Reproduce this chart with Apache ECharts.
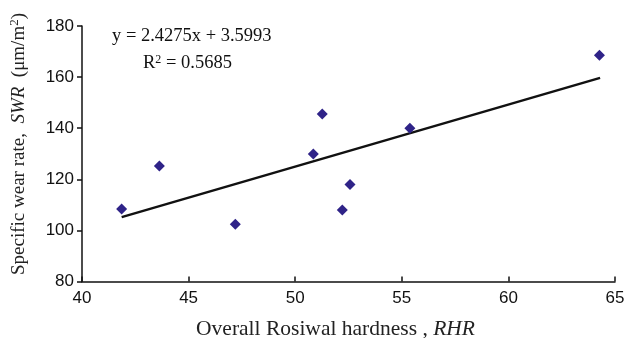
<!DOCTYPE html>
<html>
<head>
<meta charset="utf-8">
<script src="https://cdn.jsdelivr.net/npm/echarts@6/dist/echarts.min.js"></script>
<style>
  html, body { margin: 0; padding: 0; background: #fff; }
  #chart { width: 629px; height: 338px; }
</style>
</head>
<body>
<div id="chart"></div>
<script>
// overall Rosiwal hardness (RHR) vs specific wear rate (SWR)
const rhr = [41.86, 43.63, 47.19, 50.85, 51.27, 52.21, 52.57, 55.38, 64.27];
const swr = [108.4, 125.2, 102.4, 129.9, 145.6, 108.0, 118.0, 140.0, 168.6];
// linear trend endpoints (y = 2.4275x + 3.5993)
const trendX = [41.86, 64.3];
const trendY = [105.2, 159.7];
const equationText = "y = 2.4275x + 3.5993";
const r2Text = "R{sup|2} = 0.5685";

const serif = "Liberation Serif, Times New Roman, serif";
const sans = "Liberation Sans, Arial, sans-serif";

const chart = echarts.init(document.getElementById("chart"));

const option = {
  animation: false,
  grid: { left: 82, right: 14, top: 26, bottom: 56.5, outerBoundsMode: "none" },
  xAxis: {
    type: "value",
    min: 40,
    max: 65,
    interval: 5,
    name: "Overall Rosiwal hardness , {i|RHR}",
    nameLocation: "middle",
    nameGap: 37,
    nameTextStyle: {
      color: "#222",
      fontFamily: serif,
      fontSize: 21.5,
      padding: [0, 26, 0, 0],
      rich: { i: { fontStyle: "italic", fontFamily: serif, fontSize: 21.5, color: "#222" } },
    },
    axisLine: { lineStyle: { color: "#111", width: 1.5 } },
    axisTick: { inside: true, length: 5, lineStyle: { color: "#111", width: 1.5 } },
    axisLabel: { color: "#111", fontFamily: sans, fontSize: 17, margin: 8 },
    splitLine: { show: false },
  },
  yAxis: {
    type: "value",
    min: 80,
    max: 180,
    interval: 20,
    axisLine: { show: true, lineStyle: { color: "#111", width: 1.5 } },
    axisTick: { show: true, length: 5, lineStyle: { color: "#111", width: 1.5 } },
    axisLabel: { color: "#111", fontFamily: sans, fontSize: 17, margin: 8 },
    splitLine: { show: false },
  },
  graphic: [
    {
      type: "text",
      x: 19,
      y: 144,
      rotation: Math.PI / 2,
      style: {
        text: "Specific wear rate,  {i|SWR}  (μm/m{sup|2})",
        font: "19px " + serif,
        fill: "#222",
        align: "center",
        verticalAlign: "middle",
        rich: {
          i: { fontStyle: "italic", fontFamily: serif, fontSize: 19, fill: "#222" },
          sup: { fontFamily: serif, fontSize: 13, fill: "#222", verticalAlign: "top", padding: [0, 0, 8, 0] },
        },
      },
    },
    {
      type: "text",
      x: 112,
      y: 36,
      style: {
        text: equationText,
        font: "18.5px " + serif,
        fill: "#111",
        verticalAlign: "middle",
      },
    },
    {
      type: "text",
      x: 143,
      y: 63,
      style: {
        text: r2Text,
        font: "18.5px " + serif,
        fill: "#111",
        verticalAlign: "middle",
        rich: {
          sup: { fontFamily: serif, fontSize: 12, fill: "#111", verticalAlign: "top", padding: [0, 0, 7, 0] },
        },
      },
    },
  ],
  series: [
    {
      type: "line",
      data: trendX.map((x, i) => [x, trendY[i]]),
      symbol: "none",
      lineStyle: { color: "#111", width: 2.5 },
      z: 2,
    },
    {
      type: "scatter",
      data: rhr.map((x, i) => [x, swr[i]]),
      symbol: "diamond",
      symbolSize: [11, 11],
      itemStyle: { color: "#2f2388", opacity: 1 },
      z: 3,
    },
  ],
};

chart.setOption(option);
</script>
</body>
</html>
